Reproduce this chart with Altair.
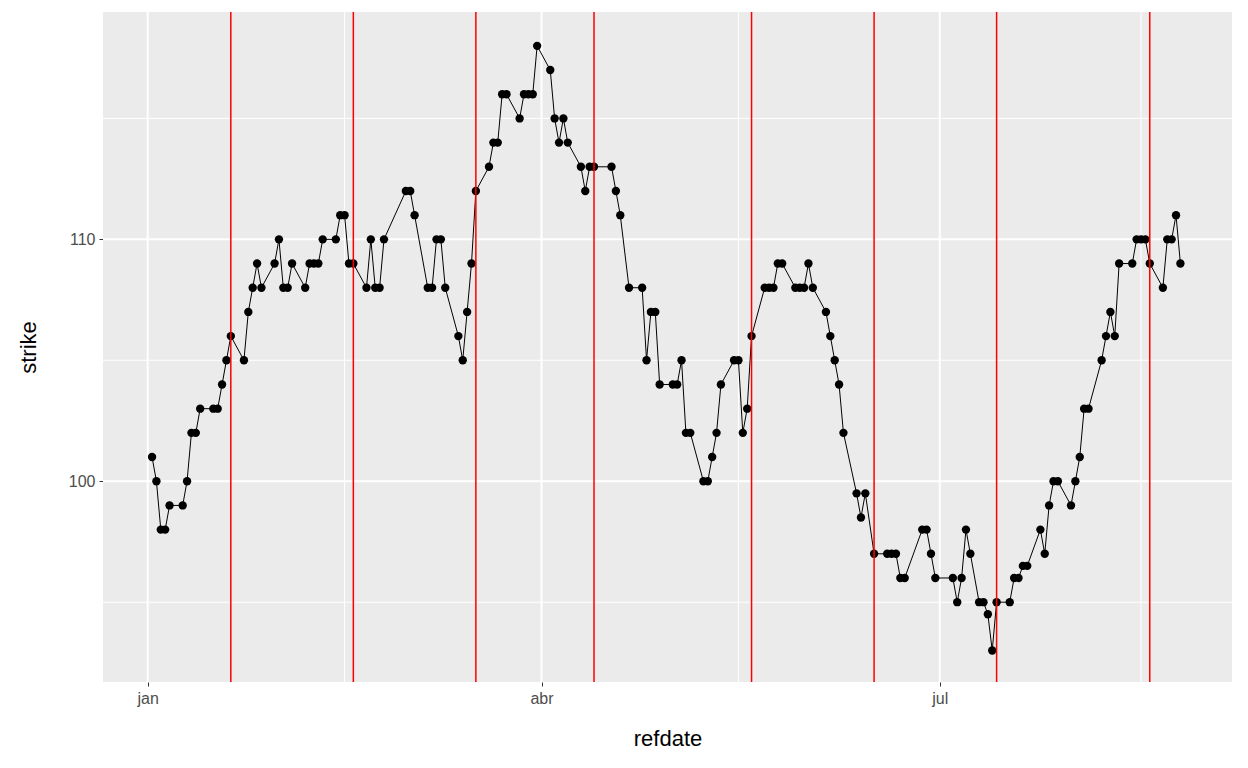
import pandas as pd
import altair as alt

# days since 2017-01-01 (trading days) and strike
day = [1, 2, 3, 4, 5, 8, 9, 10, 11, 12, 15, 16, 17, 18, 19, 22, 23, 24, 25, 26,
       29, 30, 31, 32, 33, 36, 37, 38, 39, 40, 43, 44, 45, 46, 47, 50, 51, 52, 53, 54,
       59, 60, 61, 64, 65, 66, 67, 68, 71, 72, 73, 74, 75, 78, 79, 80, 81, 82, 85, 86,
       87, 88, 89, 92, 93, 94, 95, 96, 99, 100, 101, 102, 106, 107, 108, 110, 113, 114, 115, 116,
       117, 120, 121, 122, 123, 124, 127, 128, 129, 130, 131, 134, 135, 136, 137, 138, 141, 142, 143, 144,
       145, 148, 149, 150, 151, 152, 155, 156, 157, 158, 159, 162, 163, 164, 166, 169, 170, 171, 172, 173,
       177, 178, 179, 180, 184, 185, 186, 187, 188, 190, 191, 192, 193, 194, 197, 198, 199, 200, 201, 204,
       205, 206, 207, 208, 211, 212, 213, 214, 215, 218, 219, 220, 221, 222, 225, 226, 227, 228, 229, 232,
       233, 234, 235, 236]
strike = [101, 100, 98, 98, 99, 99, 100, 102, 102, 103, 103, 103, 104, 105, 106, 105, 107, 108, 109, 108,
          109, 110, 108, 108, 109, 108, 109, 109, 109, 110, 110, 111, 111, 109, 109, 108, 110, 108, 108, 110,
          112, 112, 111, 108, 108, 110, 110, 108, 106, 105, 107, 109, 112, 113, 114, 114, 116, 116, 115, 116,
          116, 116, 118, 117, 115, 114, 115, 114, 113, 112, 113, 113, 113, 112, 111, 108, 108, 105, 107, 107,
          104, 104, 104, 105, 102, 102, 100, 100, 101, 102, 104, 105, 105, 102, 103, 106, 108, 108, 108, 109,
          109, 108, 108, 108, 109, 108, 107, 106, 105, 104, 102, 99.5, 98.5, 99.5, 97, 97, 97, 97, 96, 96,
          98, 98, 97, 96, 96, 95, 96, 98, 97, 95, 95, 94.5, 93, 95, 95, 96, 96, 96.5, 96.5, 98,
          97, 99, 100, 100, 99, 100, 101, 103, 103, 105, 106, 107, 106, 109, 109, 110, 110, 110, 109, 108,
          110, 110, 111, 109]
expiry_day = [19, 47, 75, 102, 138, 166, 194, 229]

x_ticks = ["2017-01-01", "2017-04-01", "2017-07-01"]
x_minor = ["2016-11-16", "2017-02-15", "2017-05-16", "2017-08-16"]
y_major = [100, 110]
y_minor = [95, 105, 115]

base_date = pd.Timestamp("2017-01-01")
df = pd.DataFrame({"refdate": base_date + pd.to_timedelta(day, unit="D"), "strike": strike})
exp_df = pd.DataFrame({"refdate": base_date + pd.to_timedelta(expiry_day, unit="D")})

xdom = [pd.Timestamp("2016-12-21T19:00").isoformat(), pd.Timestamp("2017-09-05T19:00").isoformat()]
xs = alt.Scale(domain=xdom)
ys = alt.Scale(domain=[91.7, 119.4], nice=False, zero=False)
font = "Liberation Sans"

months = "['jan','fev','mar','abr','mai','jun','jul','ago','set','out','nov','dez'][month(datum.value)]"

minor_x = alt.Chart(pd.DataFrame({"d": pd.to_datetime(x_minor)})).mark_rule(
    color="white", strokeWidth=1).encode(x=alt.X("d:T", scale=xs))
major_x = alt.Chart(pd.DataFrame({"d": pd.to_datetime(x_ticks)})).mark_rule(
    color="white", strokeWidth=2).encode(x=alt.X("d:T", scale=xs))
minor_y = alt.Chart(pd.DataFrame({"v": y_minor})).mark_rule(
    color="white", strokeWidth=1).encode(y=alt.Y("v:Q", scale=ys))
major_y = alt.Chart(pd.DataFrame({"v": y_major})).mark_rule(
    color="white", strokeWidth=2).encode(y=alt.Y("v:Q", scale=ys))

line = alt.Chart(df).mark_line(color="black", strokeWidth=1).encode(
    x=alt.X("refdate:T", scale=xs, title="refdate",
            axis=alt.Axis(values=[pd.Timestamp(t).isoformat() for t in x_ticks],
                          labelExpr=months, grid=False)),
    y=alt.Y("strike:Q", scale=ys, title="strike",
            axis=alt.Axis(values=y_major, grid=False)),
)
points = alt.Chart(df).mark_point(filled=True, color="black", size=70, opacity=1).encode(
    x=alt.X("refdate:T", scale=xs), y=alt.Y("strike:Q", scale=ys))
expiries = alt.Chart(exp_df).mark_rule(color="red", strokeWidth=1.5).encode(
    x=alt.X("refdate:T", scale=xs))

chart = alt.layer(minor_x, major_x, minor_y, major_y, line, points, expiries).properties(
    width=1129, height=670,
    autosize=alt.AutoSizeParams(type="none"),
    padding={"left": 95, "top": 4, "right": 8, "bottom": 78},
).configure_view(fill="#EBEBEB", stroke=None).configure_axis(
    domain=False, tickColor="#333333", tickSize=4, labelColor="#4D4D4D",
    labelFont=font, labelFontSize=16, titleFont=font, titleFontSize=22,
    titleFontWeight="normal", titleColor="black", labelPadding=4,
).configure_axisX(titlePadding=22).configure_axisY(titlePadding=28)

chart.save("out.html", embed_options={"renderer": "svg", "actions": False})
